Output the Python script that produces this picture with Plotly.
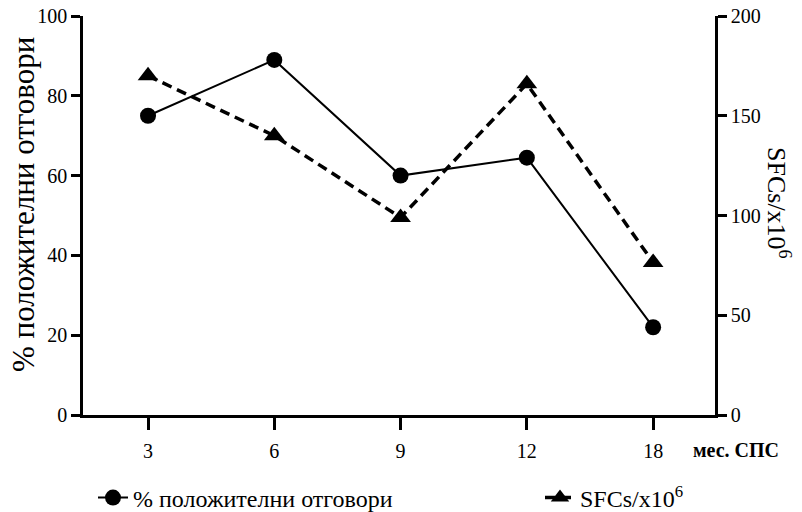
import plotly.graph_objects as go

# Months after treatment (category labels) and the two measured series
months = ["3", "6", "9", "12", "18"]
positive_pct = [75, 89, 60, 64.5, 22]        # % положителни отговори (left axis)
sfc_counts = [170, 140, 99, 166, 76.5]        # SFCs/x10^6 (right axis)

xpos = list(range(len(months)))
font_family = "Liberation Serif, serif"

# Plot-area geometry in pixels
W, H = 802, 512
ML, MR, MT, MB = 83, 87, 16, 97
PW, PH = W - ML - MR, H - MT - MB


def px_x(px):
    return (px - ML) / PW


def px_y(py):
    return 1 - (py - MT) / PH


fig = go.Figure()

fig.add_trace(go.Scatter(
    x=xpos, y=positive_pct, name="% положителни отговори",
    mode="lines+markers",
    line=dict(color="black", width=2),
    marker=dict(symbol="circle", size=16, color="black"),
    yaxis="y", legend="legend",
))

fig.add_trace(go.Scatter(
    x=xpos, y=sfc_counts, name="SFCs/x10<sup>6</sup>",
    mode="lines+markers",
    line=dict(color="black", width=3.5, dash="10px,6px"),
    marker=dict(symbol="triangle-up", size=18, color="black"),
    yaxis="y2", legend="legend2",
))

axis_common = dict(
    showline=True, linecolor="black", linewidth=2.5,
    ticks="outside", ticklen=9, tickwidth=2.5, tickcolor="black",
    showgrid=False, zeroline=False,
    tickfont=dict(family=font_family, size=20, color="black"),
)

legend_common = dict(
    orientation="h", xanchor="left", yanchor="middle",
    font=dict(family=font_family, size=24, color="black"),
    bgcolor="rgba(0,0,0,0)",
)

fig.update_layout(
    width=W, height=H,
    margin=dict(l=ML, r=MR, t=MT, b=MB, autoexpand=False),
    plot_bgcolor="white", paper_bgcolor="white",
    font=dict(family=font_family, color="black"),
    xaxis=dict(
        **{**axis_common, "ticklen": 12},
        ticklabelstandoff=4,
        tickvals=xpos, ticktext=months,
        range=[-0.515, 4.49],
    ),
    yaxis=dict(
        **axis_common,
        range=[0, 100], tickvals=[0, 20, 40, 60, 80, 100],
    ),
    yaxis2=dict(
        **axis_common,
        overlaying="y", side="right",
        range=[0, 200], tickvals=[0, 50, 100, 150, 200],
    ),
    showlegend=True,
    legend=dict(**legend_common, x=px_x(93), y=px_y(498)),
    legend2=dict(**legend_common, x=px_x(540), y=px_y(498)),
    annotations=[
        dict(
            text="% положителни отговори", textangle=-90,
            x=px_x(24), y=px_y(205), xref="paper", yref="paper",
            xanchor="center", yanchor="middle",
            showarrow=False,
            font=dict(family=font_family, size=31, color="black"),
        ),
        dict(
            text="SFCs/x10<sup>6</sup>", textangle=90,
            x=px_x(779), y=px_y(203), xref="paper", yref="paper",
            xanchor="center", yanchor="middle",
            showarrow=False,
            font=dict(family=font_family, size=26, color="black"),
        ),
        dict(
            text="<b>мес. СПС</b>",
            x=px_x(736), y=px_y(450), xref="paper", yref="paper",
            xanchor="center", yanchor="middle",
            showarrow=False,
            font=dict(family=font_family, size=20, color="black"),
        ),
    ],
)

fig.write_html("out.html")
